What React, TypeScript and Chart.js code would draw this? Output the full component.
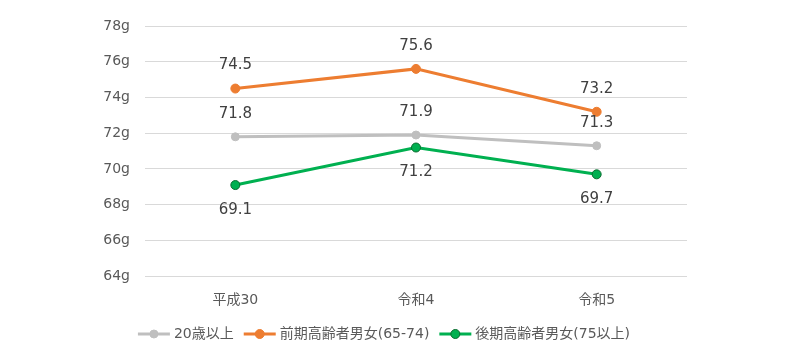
import React, { useEffect, useRef } from "react";
import { Chart, registerables } from "chart.js";

Chart.register(...registerables);

const categories = ["平成30", "令和4", "令和5"];
const seriesNames = ["20歳以上", "前期高齢者男女(65-74)", "後期高齢者男女(75以上)"];
const adults = [71.8, 71.9, 71.3];
const earlyElderly = [74.5, 75.6, 73.2];
const lateElderly = [69.1, 71.2, 69.7];
const yTicks = [64, 66, 68, 70, 72, 74, 76, 78];

const FONT = '"DejaVu Sans", "Noto Sans CJK JP", sans-serif';
const STYLES = [
  { c: "#BFBFBF", b: "#BFBFBF", r: 4 },
  { c: "#ED7D31", b: "#ED7D31", r: 4.5 },
  { c: "#00B050", b: "#0B6B2F", r: 4.5 },
];

const labelPlugin = {
  id: "valueLabels",
  afterDatasetsDraw(chart: any) {
    const ctx = chart.ctx;
    ctx.save();
    ctx.font = `15px ${FONT}`;
    ctx.fillStyle = "#404040";
    ctx.textAlign = "center";
    ctx.textBaseline = "middle";
    chart.data.datasets.forEach((ds: any, i: number) => {
      const meta = chart.getDatasetMeta(i);
      meta.data.forEach((pt: any, j: number) => {
        const v = ds.data[j];
        const dy = i === 2 ? 25 : -23;
        ctx.fillText(v.toFixed(1), pt.x, pt.y + dy);
      });
    });
    ctx.restore();
  },
};

const legendPlugin = {
  id: "customLegend",
  afterDraw(chart: any) {
    const ctx = chart.ctx;
    ctx.save();
    ctx.font = `14px ${FONT}`;
    ctx.textBaseline = "middle";
    ctx.textAlign = "left";
    const iconW = 32;
    const gapText = 4;
    const gapItem = 10;
    const items = chart.data.datasets.map((ds: any) => ds.label as string);
    const widths = items.map((t: string) => ctx.measureText(t).width);
    const total =
      widths.reduce((a: number, w: number) => a + w + iconW + gapText, 0) + gapItem * (items.length - 1);
    let x = 384 - total / 2;
    const y = 334;
    items.forEach((t: string, i: number) => {
      const s = STYLES[i];
      ctx.strokeStyle = s.c;
      ctx.lineWidth = 3;
      ctx.beginPath();
      ctx.moveTo(x, y);
      ctx.lineTo(x + iconW, y);
      ctx.stroke();
      ctx.beginPath();
      ctx.arc(x + iconW / 2, y, s.r, 0, Math.PI * 2);
      ctx.fillStyle = s.c;
      ctx.fill();
      ctx.strokeStyle = s.b;
      ctx.lineWidth = 1;
      ctx.stroke();
      ctx.fillStyle = "#595959";
      ctx.fillText(t, x + iconW + gapText, y);
      x += iconW + gapText + widths[i] + gapItem;
    });
    ctx.restore();
  },
};

export default function App() {
  const ref = useRef<HTMLCanvasElement>(null);
  useEffect(() => {
    const datas = [adults, earlyElderly, lateElderly];
    const chart = new Chart(ref.current!, {
      type: "line",
      data: {
        labels: categories,
        datasets: datas.map((d, i) => ({
          label: seriesNames[i],
          data: d,
          borderColor: STYLES[i].c,
          backgroundColor: STYLES[i].c,
          pointBackgroundColor: STYLES[i].c,
          pointBorderColor: STYLES[i].b,
          pointBorderWidth: 1,
          pointRadius: STYLES[i].r,
          borderWidth: 3,
          tension: 0,
        })),
      },
      options: {
        animation: false,
        responsive: false,
        maintainAspectRatio: false,
        layout: { padding: { left: 0, right: 113, top: 26, bottom: 43 } },
        plugins: {
          tooltip: { enabled: false },
          legend: { display: false },
        },
        scales: {
          x: {
            offset: true,
            grid: { display: false },
            border: { display: false },
            ticks: { color: "#595959", font: { family: FONT, size: 14 }, padding: 8 },
          },
          y: {
            min: 64,
            max: 78,
            afterFit: (s: any) => {
              s.width = 145;
            },
            afterBuildTicks: (s: any) => {
              s.ticks = yTicks.map((v) => ({ value: v }));
            },
            grid: { color: "#D9D9D9", drawTicks: false },
            border: { display: false },
            ticks: {
              color: "#595959",
              font: { family: FONT, size: 14 },
              padding: 15,
              callback: (v: any) => `${v}g`,
            },
          },
        },
      },
      plugins: [labelPlugin, legendPlugin],
    });
    return () => chart.destroy();
  }, []);
  return (
    <div style={{ position: "fixed", left: 0, top: 0, width: 800, height: 360, background: "#fff" }}>
      <canvas ref={ref} width={800} height={360} />
    </div>
  );
}
